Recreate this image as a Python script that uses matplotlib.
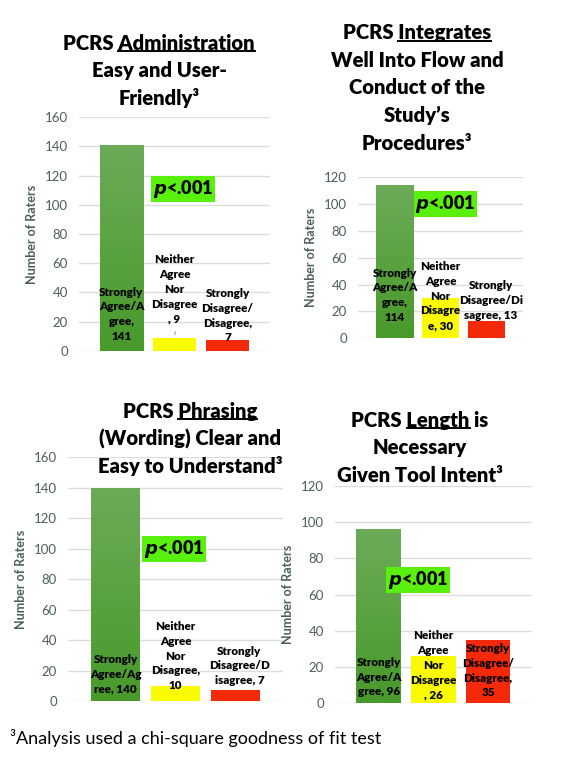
import matplotlib.pyplot as plt
import numpy as np
from matplotlib.colors import LinearSegmentedColormap

plt.rcParams['font.family'] = ['Lato', 'DejaVu Sans']

W, H, DPI = 561, 758, 100

# DATA
admin_vals = [141, 9, 7]
integ_vals = [114, 30, 13]
phrase_vals = [140, 10, 7]
length_vals = [96, 26, 35]

admin_labels = ["Strongly\nAgree/A\ngree,\n141", "Neither\nAgree\nNor\nDisagree\n, 9", "Strongly\nDisagree/\nDisagree,\n7"]
integ_labels = ["Strongly\nAgree/A\ngree,\n114", "Neither\nAgree\nNor\nDisagre\ne, 30", "Strongly\nDisagree/Di\nsagree, 13"]
phrase_labels = ["Strongly\nAgree/Ag\nree, 140", "Neither\nAgree\nNor\nDisagree,\n10", "Strongly\nDisagree/D\nisagree, 7"]
length_labels = ["Strongly\nAgree/A\ngree, 96", "Neither\nAgree\nNor\nDisagree\n, 26", "Strongly\nDisagree/\nDisagree,\n35"]

# title lines; the word in underlined[] is underlined on the first line
admin_title = ["PCRS Administration", "Easy and User-", "Friendly³"]
integ_title = ["PCRS Integrates", "Well Into Flow and", "Conduct of the", "Study’s", "Procedures³"]
phrase_title = ["PCRS Phrasing", "(Wording) Clear and", "Easy to Understand³"]
length_title = ["PCRS Length is", "Necessary", "Given Tool Intent³"]
underlined = ["Administration", "Integrates", "Phrasing", "Length"]

y_max = [160, 120, 160, 120]
footnote = "³Analysis used a chi-square goodness of fit test"
p_text = "<.001"

# LAYOUT (pixels)
# axes: left, right, y of 0, y of ymax
AX_PX = [(79, 270, 350.7, 117.3), (358, 523, 338.3, 177.3),
         (68, 283, 701, 457.3), (335, 531.7, 703.3, 486)]
TITLE_X = [159, 417, 190, 420]
TITLE_Y0 = [43, 33, 411, 420]
TITLE_DY = 27.5
LABEL_Y = [[25, 42, 24], [32, 31.5, 28], [17.7, 29.5, 23], [14.5, 21, 18]]
LABEL_DX = [[0, 0, 0], [0, 0, 0.1], [0, 0, 0.07], [0, 0, 0]]
P_POS = [(1.16, 110.8), (1.11, 100), (0.98, 99.8), (0.72, 68)]
TITLE_FS = 14.6
HEAVY = 'heavy'

GREEN_TOP, GREEN_BOT = '#6cab58', '#489a2a'
YELLOW, RED = '#fbfb00', '#f4290a'
TICK_COL = '#4b5f5f'
GRID_COL = '#dcdcdc'

green_cmap = LinearSegmentedColormap.from_list('g', [GREEN_BOT, GREEN_TOP])

fig = plt.figure(figsize=(W / DPI, H / DPI), dpi=DPI)
fig.patch.set_facecolor('white')

values = [admin_vals, integ_vals, phrase_vals, length_vals]
labels = [admin_labels, integ_labels, phrase_labels, length_labels]
titles = [admin_title, integ_title, phrase_title, length_title]

for k in range(4):
    l, r, y0, y1 = AX_PX[k]
    ax = fig.add_axes([l / W, 1 - y0 / H, (r - l) / W, (y0 - y1) / H])
    vals = values[k]
    x = np.arange(len(vals))
    bars = ax.bar(x, vals, width=0.82, color=[GREEN_TOP, YELLOW, RED], zorder=2)
    # gradient on green bar
    b = bars[0]
    grad = np.linspace(0, 1, 256).reshape(-1, 1)
    im = ax.imshow(grad, cmap=green_cmap, origin='lower', aspect='auto',
                   extent=[b.get_x(), b.get_x() + b.get_width(), 0, b.get_height()], zorder=2.5)
    im.set_clip_path(b)

    ax.set_xlim(-0.8, 2.8)
    ax.set_ylim(0, y_max[k])
    ax.set_yticks(np.arange(0, y_max[k] + 1, 20))
    ax.set_xticks([])
    ax.yaxis.grid(True, color=GRID_COL, lw=1)
    ax.set_axisbelow(True)
    for s in ax.spines.values():
        s.set_visible(False)
    ax.tick_params(axis='y', length=0, pad=8, labelsize=9.5, labelcolor=TICK_COL)
    ax.set_ylabel("Number of Raters", fontsize=9, fontweight='bold', color=TICK_COL)
    ax.yaxis.set_label_coords(-41 / (r - l), 0.5)

    for i, (t, ly) in enumerate(zip(labels[k], LABEL_Y[k])):
        ax.text(x[i] + LABEL_DX[k][i], ly, t, ha='center', va='center', fontsize=8.4,
                fontweight=HEAVY, color='black', linespacing=1.42, zorder=4)
    if k == 0:
        # leader line from the small label to its bar
        ax.annotate('', xy=(x[1], vals[1]), xytext=(x[1] + 0.02, vals[1] + 6),
                    arrowprops=dict(arrowstyle='-', color='#a6a6a6', lw=0.8), zorder=4)

    px, py = P_POS[k]
    ax.text(px, py, r"$\mathbfit{p}$" + p_text, ha='center', va='center', fontsize=13,
            fontweight=HEAVY, color='black', zorder=5,
            bbox=dict(boxstyle='square,pad=0.1', fc='#58f00c', ec='none'))


def width(s, renderer):
    tt = fig.text(0, 0, s, fontsize=TITLE_FS, fontweight=HEAVY)
    w = tt.get_window_extent(renderer).width
    tt.remove()
    return w


# titles
renderer = fig.canvas.get_renderer()
for k in range(4):
    for j, line in enumerate(titles[k]):
        t = fig.text(TITLE_X[k] / W, 1 - (TITLE_Y0[k] + j * TITLE_DY) / H, line,
                     ha='center', va='center', fontsize=TITLE_FS, fontweight=HEAVY, color='black')
        if j == 0:
            word = underlined[k]
            head = line[:line.index(word) + len(word)]
            ext = t.get_window_extent(renderer)
            xe = ext.x0 + width(head, renderer)
            xs = xe - width(word, renderer)
            yu = ext.y0 + 1.5
            fig.add_artist(plt.Line2D([xs / W, xe / W], [yu / H, yu / H], color='black', lw=1.4))

fig.text(10 / W, 1 - 738 / H, footnote, ha='left', va='center', fontsize=13, color='black')

fig.savefig('out.png', dpi=DPI)
